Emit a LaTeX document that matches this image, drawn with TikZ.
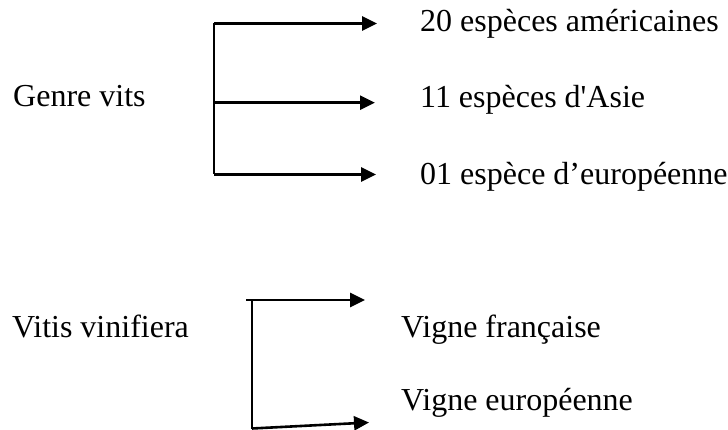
\documentclass[tikz,border=0pt]{standalone}
\usepackage{fontspec}
\setmainfont{Liberation Serif}
\usetikzlibrary{arrows.meta}
\begin{document}
\begin{tikzpicture}[x=1pt,y=-1pt,
  lbl/.style={anchor=base west,inner sep=0pt,font=\fontsize{32}{38}\selectfont},
  trunk/.style={line width=1.4pt},
  branch/.style={line width=2.6pt,-{Triangle[length=15pt,width=14pt]}}]
\useasboundingbox (0,0) rectangle (728,430);
% texts
\node[lbl] (genre) at (13,107) {Genre vits};
\node[lbl] (am) at (420,31.7) {20 espèces américaines};
\node[lbl] (as) at (420,108) {11 espèces d\textquotesingle Asie};
\node[lbl] (eu) at (420,185) {01 espèce d’européenne};
\node[lbl] (vv) at (12,337) {Vitis vinifiera};
\node[lbl] (vf) at (401,337) {Vigne française};
\node[lbl] (ve) at (401,410) {Vigne européenne};
% group 1
\coordinate (g1t) at (214,23.5);
\coordinate (g1m) at (214,102.7);
\coordinate (g1b) at (214,174.5);
\coordinate (a1) at (377,23.5);
\coordinate (a2) at (375,102.7);
\coordinate (a3) at (376,174.5);
\draw[trunk] (g1t) -- (g1b);
\draw[branch] (g1t) -- (a1);
\draw[branch] (g1m) -- (a2);
\draw[branch] (g1b) -- (a3);
% group 2
\coordinate (g2s) at (246,300);
\coordinate (g2t) at (252,300);
\coordinate (g2b) at (252,428.5);
\coordinate (b1) at (365,300);
\coordinate (b2) at (369,422.5);
\draw[trunk] (g2t) -- (g2b);
\draw[branch] (g2s) -- (b1);
\draw[branch] (g2b) -- (b2);
\end{tikzpicture}
\end{document}
